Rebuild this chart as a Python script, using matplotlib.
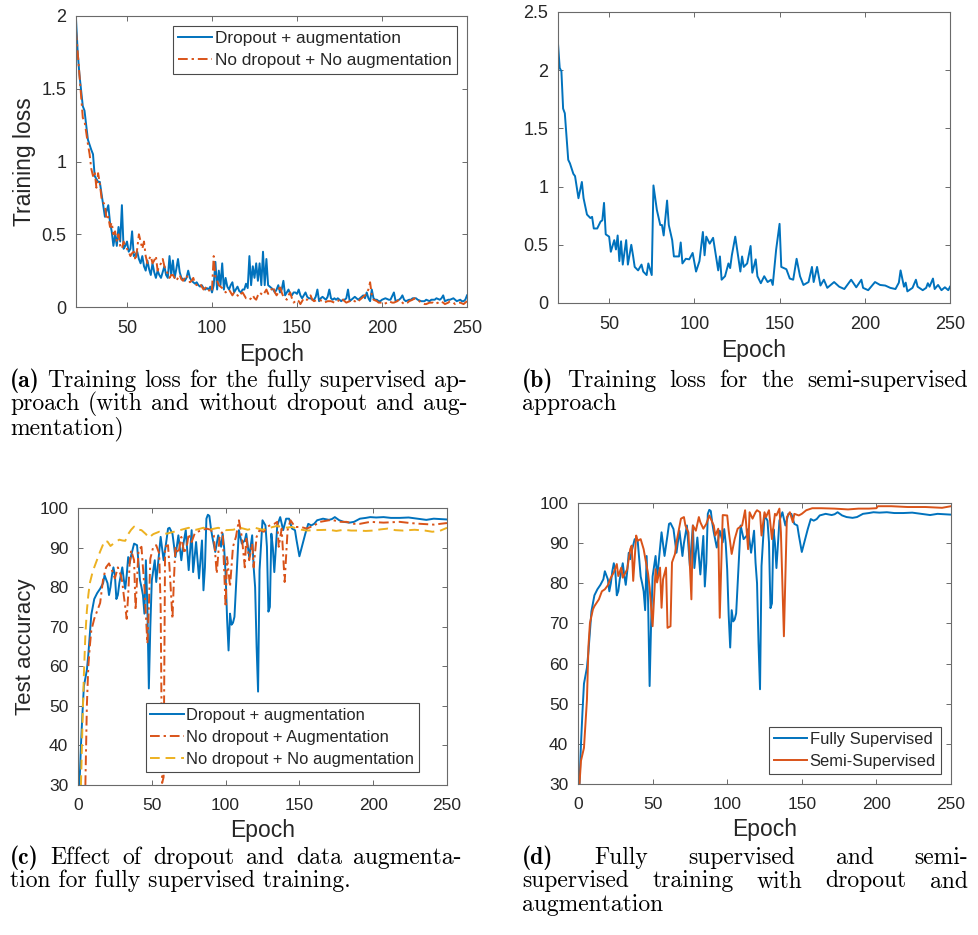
"""Training loss / test accuracy curves (fully vs semi-supervised), 2x2 panels with captions."""
import matplotlib
matplotlib.use("Agg")
import matplotlib.pyplot as plt
from matplotlib.ticker import FuncFormatter

BLUE = "#0072BD"
ORANGE = "#D95319"
YELLOW = "#EDB120"

# ---- (a) training loss, fully supervised ----
A_DROP_EP = [20, 21, 22, 24, 25, 27, 29, 30, 31, 33,
             34, 35, 36, 37, 38, 39, 40, 41, 42, 43,
             44, 45, 46, 47, 48, 49, 50, 51, 52, 53,
             54, 55, 56, 57, 58, 59, 60, 61, 62, 63,
             64, 65, 66, 67, 68, 69, 70, 71, 72, 73,
             74, 75, 76, 77, 78, 79, 80, 81, 82, 83,
             84, 85, 86, 87, 88, 89, 90, 91, 92, 93,
             94, 95, 96, 97, 98, 99, 100, 101, 102, 103,
             104, 105, 106, 107, 108, 109, 110, 111, 112, 113,
             114, 115, 116, 117, 118, 119, 120, 121, 122, 123,
             124, 125, 126, 127, 128, 129, 130, 131, 132, 133,
             134, 135, 136, 137, 138, 139, 140, 141, 142, 143,
             144, 145, 146, 147, 148, 149, 150, 151, 152, 153,
             154, 155, 156, 157, 158, 159, 160, 161, 162, 163,
             164, 165, 166, 167, 168, 169, 170, 171, 172, 173,
             174, 175, 176, 177, 178, 179, 180, 181, 182, 183,
             184, 185, 186, 187, 188, 189, 190, 191, 192, 193,
             194, 195, 196, 197, 198, 199, 200, 202,
             204, 205, 207, 208, 210, 211, 212, 213, 214, 216,
             217, 218, 220, 221, 223, 225, 226, 228, 229, 231,
             232, 234, 235, 236, 237, 239, 240, 242, 243, 244,
             246, 247, 248, 249, 250]
A_DROP_LOSS = [1.98, 1.75, 1.6, 1.38, 1.35, 1.15, 1.08, 1.05, 0.9, 0.86,
               0.86, 0.78, 0.7, 0.62, 0.66, 0.7, 0.58, 0.52, 0.42, 0.5,
               0.42, 0.55, 0.45, 0.7, 0.4, 0.42, 0.45, 0.38, 0.4, 0.52,
               0.35, 0.36, 0.38, 0.33, 0.3, 0.35, 0.28, 0.25, 0.32, 0.26,
               0.22, 0.3, 0.24, 0.2, 0.25, 0.22, 0.2, 0.24, 0.28, 0.22,
               0.2, 0.35, 0.22, 0.32, 0.2, 0.26, 0.33, 0.24, 0.2, 0.19,
               0.18, 0.2, 0.25, 0.2, 0.18, 0.17, 0.16, 0.17, 0.15, 0.14,
               0.15, 0.13, 0.12, 0.13, 0.12, 0.14, 0.1, 0.15, 0.31, 0.12,
               0.25, 0.15, 0.3, 0.12, 0.2, 0.14, 0.12, 0.15, 0.17, 0.1,
               0.12, 0.14, 0.11, 0.1, 0.12, 0.12, 0.16, 0.13, 0.35, 0.15,
               0.28, 0.2, 0.3, 0.18, 0.3, 0.15, 0.38, 0.15, 0.33, 0.15,
               0.14, 0.13, 0.12, 0.1, 0.12, 0.15, 0.1, 0.12, 0.18, 0.08,
               0.1, 0.12, 0.09, 0.08, 0.1, 0.1, 0.09, 0.12, 0.08, 0.06,
               0.08, 0.1, 0.07, 0.06, 0.06, 0.05, 0.05, 0.07, 0.12, 0.04,
               0.06, 0.07, 0.06, 0.05, 0.07, 0.12, 0.06, 0.05, 0.06, 0.05,
               0.06, 0.05, 0.04, 0.05, 0.05, 0.06, 0.12, 0.04, 0.05, 0.06,
               0.07, 0.06, 0.05, 0.06, 0.07, 0.08, 0.06, 0.1, 0.06, 0.04,
               0.12, 0.06, 0.05, 0.05, 0.04, 0.04, 0.05, 0.06,
               0.05, 0.05, 0.1, 0.04, 0.05, 0.06, 0.08, 0.05, 0.04, 0.05,
               0.05, 0.06, 0.06, 0.05, 0.04, 0.04, 0.05, 0.04, 0.05, 0.05,
               0.06, 0.05, 0.06, 0.08, 0.04, 0.05, 0.05, 0.06, 0.05, 0.04,
               0.05, 0.04, 0.04, 0.05, 0.08]

A_NODROP_EP = [20, 21, 22, 23, 24, 25, 26, 27, 28, 29,
               30, 31, 32, 33, 34, 35, 36, 37, 38, 39,
               40, 41, 42, 43, 44, 45, 46, 47, 48, 49,
               50, 51, 52, 53, 54, 55, 56, 57, 58, 59,
               60, 61, 62, 63, 64, 65, 66, 67, 68, 69,
               70, 71, 72, 73, 74, 75, 76, 77, 78, 79,
               80, 81, 82, 83, 84, 85, 86, 87, 88, 89,
               90, 91, 92, 93, 94, 95, 96, 97, 98, 99,
               100, 101, 102, 103, 104, 105, 106, 107, 108, 109,
               110, 111, 112, 113, 114, 115, 116, 117, 118, 119,
               120, 121, 122, 123, 124, 125, 126, 127, 128, 129,
               130, 131, 132, 133, 134, 135, 136, 137, 138, 139,
               140, 141, 142, 143, 144, 145, 146, 147, 148, 149,
               150, 151, 152, 153, 154, 155, 156, 157, 158, 159,
               160, 162, 163, 165, 166, 168, 170, 172, 173, 175,
               176, 178, 179, 181, 182, 184, 185, 187, 188, 190,
               191, 192, 193, 194, 195, 197, 198, 200, 201, 203,
               204, 206, 207, 209, 210, 212, 213, 215, 216, 218,
               219, 220, 222, 223, 225, 226, 228, 230, 231, 233,
               234, 236, 237, 239, 240, 242, 243, 245, 246, 248,
               249, 250]
A_NODROP_LOSS = [1.9, 1.75, 1.6, 1.45, 1.3, 1.28, 1.2, 1.12, 1.05, 0.95,
                 0.9, 0.93, 0.82, 0.92, 0.85, 0.75, 0.72, 0.7, 0.6, 0.62,
                 0.55, 0.58, 0.5, 0.52, 0.45, 0.5, 0.42, 0.4, 0.45, 0.42,
                 0.4, 0.38, 0.35, 0.37, 0.38, 0.32, 0.4, 0.5, 0.45, 0.4,
                 0.45, 0.35, 0.3, 0.33, 0.35, 0.3, 0.32, 0.35, 0.25, 0.28,
                 0.3, 0.33, 0.28, 0.25, 0.23, 0.2, 0.22, 0.22, 0.2, 0.18,
                 0.2, 0.22, 0.19, 0.18, 0.2, 0.22, 0.19, 0.17, 0.18, 0.2,
                 0.16, 0.15, 0.16, 0.16, 0.14, 0.12, 0.13, 0.14, 0.12, 0.1,
                 0.12, 0.35, 0.2, 0.18, 0.15, 0.14, 0.13, 0.12, 0.1, 0.11,
                 0.12, 0.1, 0.08, 0.1, 0.1, 0.08, 0.07, 0.09, 0.1, 0.08,
                 0.06, 0.06, 0.05, 0.06, 0.08, 0.06, 0.05, 0.08, 0.1, 0.09,
                 0.08, 0.1, 0.12, 0.09, 0.1, 0.12, 0.14, 0.1, 0.08, 0.1,
                 0.15, 0.1, 0.07, 0.06, 0.05, 0.08, 0.1, 0.06, 0.03, 0.04,
                 0.05, 0.04, 0.02, 0.04, 0.06, 0.05, 0.05, 0.07, 0.08, 0.05,
                 0.04, 0.05, 0.05, 0.04, 0.03, 0.04, 0.04, 0.03, 0.03, 0.05,
                 0.06, 0.04, 0.03, 0.04, 0.05, 0.04, 0.03, 0.05, 0.06, 0.08,
                 0.1, 0.12, 0.17, 0.08, 0.05, 0.04, 0.03, 0.03, 0.02, 0.03,
                 0.04, 0.03, 0.03, 0.04, 0.05, 0.03, 0.02, 0.03, 0.04, 0.05,
                 0.06, 0.05, 0.04, 0.03, 0.02, 0.02, 0.03, 0.03, 0.02, 0.03,
                 0.04, 0.03, 0.02, 0.03, 0.04, 0.03, 0.02, 0.03, 0.03, 0.02,
                 0.03, 0.04]

# ---- (b) training loss, semi-supervised ----
B_EP = [20, 21, 22, 23, 24, 26, 27, 29, 30, 32,
        34, 35, 37, 39, 40, 41, 43, 45, 46, 47,
        48, 50, 51, 53, 54, 55, 56, 57, 58, 60,
        61, 63, 64, 65, 67, 69, 70, 72, 73, 75,
        76, 78, 80, 81, 82, 84, 85, 87, 88, 91,
        92, 93, 95, 97, 99, 101, 103, 105, 106, 107,
        109, 111, 114, 115, 116, 118, 120, 121, 122, 124,
        125, 127, 128, 129, 131, 133, 134, 136, 137, 139,
        141, 143, 145, 146, 148, 150, 151, 154, 156, 158,
        160, 162, 164, 167, 169, 170, 172, 174, 176, 178,
        180, 182, 185, 188, 192, 195, 198, 199, 202, 206,
        209, 212, 215, 218, 220, 221, 223, 224, 225, 228,
        230, 231, 234, 236, 237, 238, 240, 241, 243, 245,
        247, 249, 250]
B_LOSS = [2.23, 2.02, 1.99, 1.67, 1.63, 1.23, 1.2, 1.11, 1.09, 0.9,
          1.04, 0.9, 0.76, 0.73, 0.74, 0.64, 0.64, 0.7, 0.71, 0.86,
          0.59, 0.57, 0.44, 0.54, 0.46, 0.58, 0.36, 0.53, 0.33, 0.54,
          0.33, 0.5, 0.41, 0.31, 0.28, 0.33, 0.27, 0.24, 0.34, 0.24,
          1.01, 0.8, 0.67, 0.67, 0.58, 0.88, 0.67, 0.54, 0.4, 0.4,
          0.52, 0.34, 0.38, 0.375, 0.43, 0.27, 0.36, 0.61, 0.41, 0.57,
          0.51, 0.56, 0.28, 0.4, 0.2, 0.23, 0.34, 0.3, 0.41, 0.57,
          0.47, 0.27, 0.4, 0.31, 0.34, 0.49, 0.26, 0.375, 0.23, 0.17,
          0.23, 0.18, 0.2, 0.155, 0.46, 0.68, 0.31, 0.29, 0.21, 0.2,
          0.38, 0.23, 0.155, 0.18, 0.31, 0.18, 0.31, 0.15, 0.2, 0.13,
          0.155, 0.18, 0.14, 0.12, 0.2, 0.135, 0.2, 0.13, 0.11, 0.18,
          0.155, 0.15, 0.13, 0.12, 0.175, 0.28, 0.14, 0.175, 0.1, 0.13,
          0.2, 0.14, 0.11, 0.13, 0.17, 0.14, 0.21, 0.12, 0.155, 0.11,
          0.135, 0.11, 0.14]

# ---- (c)/(d) test accuracy, fully supervised with dropout + augmentation ----
FULL_EP = [1, 2, 3, 4, 5, 6, 7, 8, 9, 10,
           11, 13, 15, 17, 18, 19, 20, 21, 22, 23,
           24, 25, 26, 27, 28, 30, 31, 32, 33, 34,
           35, 36, 38, 40, 42, 43, 44, 45, 46, 47,
           48, 49, 50, 52, 53, 54, 56, 58, 60, 61,
           62, 64, 66, 68, 70, 71, 73, 75, 77, 78,
           80, 82, 84, 85, 86, 87, 88, 89, 90, 91,
           93, 95, 97, 98, 99, 100, 101, 102, 103, 104,
           105, 106, 108, 109, 111, 113, 114, 116, 118, 119,
           120, 121, 122, 123, 125, 127, 128, 129, 130, 131,
           132, 133, 135, 137, 139, 141, 143, 145, 147, 148,
           150, 152, 154, 156, 158, 160, 162, 166, 170, 172,
           174, 177, 180, 184, 187, 191, 195, 198, 202, 207,
           212, 218, 224, 230, 236, 241, 245, 250]
FULL_ACC = [30, 40, 48, 55, 57, 59, 63, 68, 73, 75,
            77, 78.5, 79.6, 81, 83, 82, 81, 78, 80, 83,
            85, 83, 77, 78, 81, 85, 82, 79.6, 83, 87.6,
            86, 88, 91, 90.6, 81.7, 80, 78, 73.3, 86.8, 75,
            54.4, 70, 81.7, 86.8, 81.3, 85, 92.7, 86.8, 92, 94.8,
            95, 93.5, 87.6, 93.1, 86.8, 90, 94.4, 84.3, 94.4, 83.8,
            91.4, 82.2, 91.8, 79.2, 85, 97.3, 98.3, 98, 95, 92.7,
            88.9, 93.1, 90.2, 93.5, 90, 83.4, 72, 64, 73.3, 70.5,
            71, 72.5, 86.8, 94.4, 91, 91.8, 93.5, 87.6, 93.1, 85.1,
            80, 65, 53.6, 84.3, 96.9, 95.6, 90.2, 73.8, 75, 93.5,
            90, 83.8, 95.6, 97.7, 94.4, 97.3, 97.3, 94.8, 94.4, 92,
            87.8, 90.6, 93.5, 96, 95.6, 96, 96.9, 97.3, 97, 97.2,
            97.7, 96.9, 96.5, 96.3, 96.5, 97.3, 97.5, 97.7, 97.6, 97.7,
            97.5, 97.5, 97.6, 97.3, 97, 97.3, 97.2, 97.1]

# ---- (c) no dropout + augmentation ----
AUG_EP = [4, 5, 6, 7, 8, 9, 11, 13, 15, 17,
          19, 21, 23, 25, 27, 29, 30, 31, 33, 34,
          35, 36, 38, 39, 40, 41, 43, 44, 45, 47,
          48, 49, 51, 53, 55, 56, 57, 58, 59, 61,
          62, 64, 65, 66, 68, 70, 72, 74, 75, 77,
          79, 81, 84, 87, 90, 92, 94, 96, 98, 100,
          101, 103, 105, 107, 109, 111, 113, 114, 116, 118,
          119, 121, 123, 126, 128, 130, 133, 135, 136, 138,
          140, 142, 144, 147, 151, 155, 160, 164, 170, 173,
          178, 182, 187, 191, 198, 207, 218, 225, 232, 241,
          250]
AUG_ACC = [25, 30, 50, 60, 65, 69, 72, 74, 76, 82,
           85, 86, 84.3, 82.2, 85, 83, 81.3, 78, 72, 78,
           86, 89.3, 86.8, 74.2, 82, 89.3, 90.2, 85, 80, 65.8,
           75, 87.2, 90.2, 90.6, 88.5, 75, 30.5, 32, 90.2, 90.6,
           85, 72, 82, 90.2, 88.5, 92.7, 88.5, 91, 93.5, 91.4,
           93.5, 94, 94.4, 94.8, 94.5, 93.1, 83.4, 93.1, 94, 75,
           87.6, 80.1, 90.2, 92.7, 96.9, 92.7, 85, 92.7, 86.8, 91,
           85, 92.7, 94.4, 94, 95.2, 95.6, 96, 96.5, 90.2, 94.8,
           81.3, 94.4, 96.9, 95.2, 95.2, 94.8, 95.6, 96.5, 96.9, 96.9,
           96.5, 96.5, 96, 96, 96.5, 96.3, 96.5, 96.2, 96, 95.8,
           96.2]

# ---- (c) no dropout + no augmentation ----
PLAIN_EP = [2, 3, 4, 5, 6, 7, 8, 10, 12, 15,
            18, 20, 22, 25, 28, 30, 32, 34, 36, 38,
            40, 43, 46, 48, 51, 55, 60, 65, 70, 75,
            80, 85, 90, 95, 100, 105, 110, 115, 120, 125,
            130, 135, 140, 145, 150, 155, 160, 170, 175, 180,
            185, 190, 195, 200, 205, 210, 215, 220, 228, 235,
            240, 245, 250]
PLAIN_ACC = [30, 45, 58, 68, 74, 78, 81, 84, 86, 89,
             91.7, 91.5, 90.4, 91.3, 92, 91.8, 91.7, 93.4, 94.5, 95.3,
             94.6, 94.4, 93.4, 92.5, 93.4, 94, 93.5, 94, 94.5, 95,
             94.5, 95, 94.6, 95, 94.4, 94.5, 95, 94.5, 95, 94.5,
             95, 95.5, 95, 95.2, 94.6, 94.3, 94.4, 94.5, 94.2, 94.5,
             94.3, 94.3, 94.2, 94.3, 94.6, 94.8, 94.4, 94.3, 94.5, 94.3,
             94, 94.2, 95]

# ---- (d) semi-supervised ----
SEMI_EP = [1, 2, 4, 6, 7, 8, 10, 11, 14, 16,
           18, 20, 22, 24, 26, 27, 29, 30, 33, 35,
           36, 37, 39, 40, 42, 44, 45, 47, 48, 50,
           52, 53, 55, 56, 57, 59, 60, 62, 63, 65,
           66, 69, 71, 72, 74, 76, 77, 79, 81, 82,
           84, 86, 88, 91, 92, 94, 95, 97, 100, 101,
           103, 105, 107, 110, 112, 114, 115, 117, 119, 120,
           122, 123, 125, 126, 128, 130, 132, 133, 135, 136,
           138, 140, 142, 144, 145, 148, 150, 153, 157, 163,
           172, 181, 188, 195, 200, 201, 210, 221, 233, 244,
           250]
SEMI_ACC = [30, 35.8, 39, 51, 64.3, 70.1, 73.5, 74.3, 76, 78,
            78.5, 79.5, 81.4, 82.7, 84.8, 81.8, 83.9, 81.4, 83.5, 88.5,
            89.4, 80.6, 91.9, 90.6, 91, 88.5, 86.4, 82.3, 78.9, 69.3,
            83.5, 80.2, 83.9, 73.9, 81, 83.9, 68.9, 69.3, 85.2, 87.3,
            90.2, 96.1, 96.5, 94.4, 92.7, 76, 94.4, 93.1, 96.5, 95.2,
            93.6, 94.8, 96.9, 94.4, 91.9, 93.6, 71.4, 97, 96.9, 93.1,
            87.3, 91, 93.6, 94.4, 98.2, 88.5, 97.7, 96.1, 97.7, 98.2,
            97.7, 91.9, 97.7, 96.5, 98.2, 91, 97.3, 96.9, 98.6, 92.7,
            66.8, 96.5, 97.7, 95.2, 97.3, 96.9, 97.3, 98.2, 98.7, 98.7,
            98.6, 98.4, 98.6, 98.6, 98.7, 99.2, 99.2, 99, 99, 98.8,
            99.2]

CAPTIONS = {
    "a": [("Training loss for the fully supervised ap-", True),
          ("proach (with and without dropout and aug-", True),
          ("mentation)", False)],
    "b": [("Training loss for the semi-supervised", True),
          ("approach", False)],
    "c": [("Effect of dropout and data augmenta-", True),
          ("tion for fully supervised training.", False)],
    "d": [("Fully supervised and semi-", True),
          ("supervised training with dropout and", True),
          ("augmentation", False)],
}

SANS = "Liberation Sans"
TXT = "#262626"
W_PX, H_PX = 979, 935

fig = plt.figure(figsize=(9.79, 9.35), dpi=100)


def px_axes(left, top, right, bottom):
    return fig.add_axes([left / W_PX, 1 - bottom / H_PX,
                         (right - left) / W_PX, (bottom - top) / H_PX])


def style(ax, tick_size):
    for s in ax.spines.values():
        s.set_color("#6a6a6a")
        s.set_linewidth(0.8)
    ax.tick_params(direction="in", top=True, right=True, length=3.5,
                   width=0.7, color="#6a6a6a", labelsize=tick_size, labelcolor=TXT)
    ax.tick_params(axis="x", pad=9.5)
    ax.tick_params(axis="y", pad=7)
    for lab in ax.get_xticklabels() + ax.get_yticklabels():
        lab.set_family(SANS)
    ax.yaxis.set_major_formatter(FuncFormatter(lambda v, p: "%g" % v))
    ax.xaxis.set_major_formatter(FuncFormatter(lambda v, p: "%g" % v))
    ax.set_xlabel("Epoch", family=SANS, fontsize=16.5, color=TXT, labelpad=4)


def legend(ax, size, **kw):
    lg = ax.legend(prop={"family": SANS, "size": size}, fancybox=False, framealpha=1,
                   edgecolor="#4a4a4a", handlelength=2.0, handletextpad=0.15,
                   labelspacing=0.42, borderpad=0.3, borderaxespad=0, **kw)
    lg.get_frame().set_linewidth(0.8)
    for t in lg.get_texts():
        t.set_color(TXT)


LW = 1.4
DASHDOT = (0, (5, 2, 1.2, 2))
DASHED = (0, (5, 3))

# (a)
ax = px_axes(76, 16, 467, 307)
ax.plot(A_DROP_EP, A_DROP_LOSS, color=BLUE, lw=LW, label="Dropout + augmentation")
ax.plot(A_NODROP_EP, A_NODROP_LOSS, color=ORANGE, lw=LW, ls=DASHDOT,
        label="No dropout + No augmentation")
ax.set_xlim(20, 250)
ax.set_ylim(0, 2)
ax.set_xticks([50, 100, 150, 200, 250])
ax.set_yticks([0, 0.5, 1, 1.5, 2])
style(ax, 13)
ax.set_ylabel("Training loss", family=SANS, fontsize=16.5, color=TXT, labelpad=4)
legend(ax, 12.4, loc="upper right", bbox_to_anchor=(0.974, 0.966))

# (b)
ax = px_axes(558, 12, 950, 303)
ax.plot(B_EP, B_LOSS, color=BLUE, lw=LW)
ax.set_xlim(20, 250)
ax.set_ylim(0, 2.5)
ax.set_xticks([50, 100, 150, 200, 250])
ax.set_yticks([0, 0.5, 1, 1.5, 2, 2.5])
style(ax, 13)

# (c)
ax = px_axes(78, 508, 447, 785)
ax.plot(FULL_EP, FULL_ACC, color=BLUE, lw=LW, label="Dropout + augmentation")
ax.plot(AUG_EP, AUG_ACC, color=ORANGE, lw=LW, ls=DASHDOT, label="No dropout + Augmentation")
ax.plot(PLAIN_EP, PLAIN_ACC, color=YELLOW, lw=LW, ls=DASHED, label="No dropout + No augmentation")
ax.set_xlim(0, 250)
ax.set_ylim(30, 100)
ax.set_xticks([0, 50, 100, 150, 200, 250])
ax.set_yticks(range(30, 101, 10))
style(ax, 12.5)
ax.set_ylabel("Test accuracy", family=SANS, fontsize=16, color=TXT, labelpad=2)
legend(ax, 11.9, loc="lower right", bbox_to_anchor=(0.924, 0.047))

# (d)
ax = px_axes(578, 503, 951, 784)
ax.plot(FULL_EP, FULL_ACC, color=BLUE, lw=LW, label="Fully Supervised")
ax.plot(SEMI_EP, SEMI_ACC, color=ORANGE, lw=LW, label="Semi-Supervised")
ax.set_xlim(0, 250)
ax.set_ylim(30, 100)
ax.set_xticks([0, 50, 100, 150, 200, 250])
ax.set_yticks(range(30, 101, 10))
style(ax, 12.5)
legend(ax, 11.9, loc="lower right", bbox_to_anchor=(0.973, 0.036))


# captions: bold panel tag + justified serif text
CAP_SIZE = 17
LINE_PX = 23.5
renderer = fig.canvas.get_renderer()


def caption(tag, x0, x1, base_y):
    for i, (line, justify) in enumerate(CAPTIONS[tag]):
        y = 1 - (base_y + i * LINE_PX) / H_PX
        items = [(w, "cmr10") for w in line.split()]
        if i == 0:
            items = [("(%s)" % tag, "cmb10")] + items
        if not justify:
            fig.text(x0 / W_PX, y, line, family="cmr10", size=CAP_SIZE, va="baseline")
            continue
        texts = [fig.text(0, y, w, family=f, size=CAP_SIZE, va="baseline") for w, f in items]
        widths = [t.get_window_extent(renderer).width for t in texts]
        gap = (x1 - x0 - sum(widths)) / (len(texts) - 1)
        x = x0
        for t, w in zip(texts, widths):
            t.set_x(x / W_PX)
            x += w + gap


caption("a", 10, 467, 387)
caption("b", 522, 968, 387)
caption("c", 10, 462, 864)
caption("d", 522, 968, 864)

fig.savefig("out.png", dpi=100)
